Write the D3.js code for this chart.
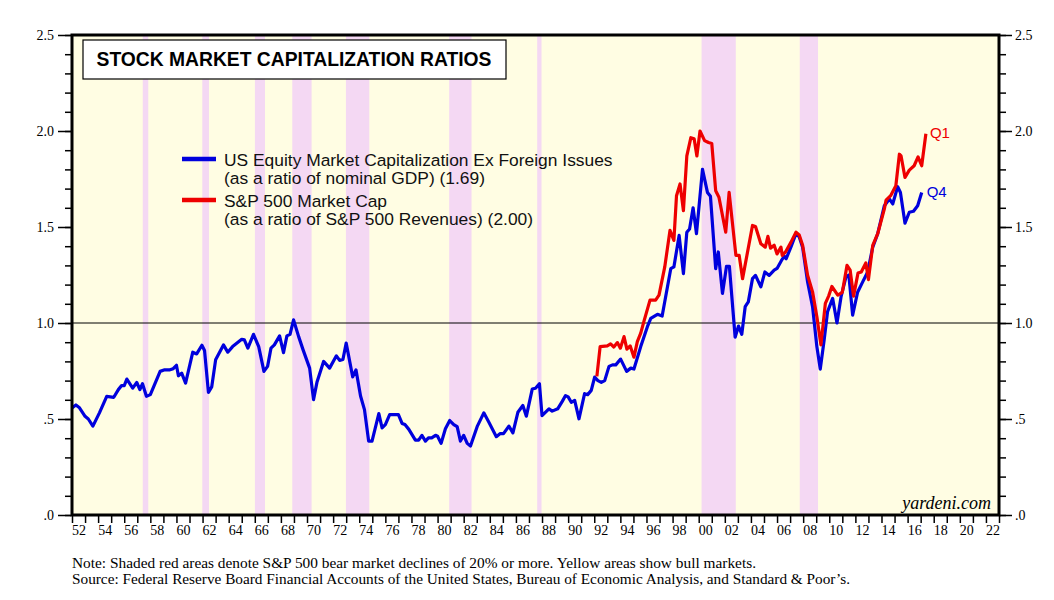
<!DOCTYPE html>
<html>
<head>
<meta charset="utf-8">
<script src="https://cdn.jsdelivr.net/npm/d3@7"></script>
<style>
  body { margin: 0; background: #fff; }
  svg { display: block; }
</style>
</head>
<body>
<svg></svg>
<script>
// US equity market cap ex foreign issues / nominal GDP (quarterly)
let blueYears = [1952.0, 1952.3, 1952.55, 1953.0, 1953.25, 1953.6, 1954.1, 1954.66, 1955.2, 1955.55, 1955.8, 1956.0, 1956.2, 1956.65, 1956.96, 1957.2, 1957.4, 1957.7, 1958.0, 1958.75, 1959.1, 1959.5, 1959.75, 1960.0, 1960.15, 1960.4, 1960.7, 1961.25, 1961.55, 1961.95, 1962.15, 1962.45, 1962.7, 1963.0, 1963.6, 1963.93, 1964.3, 1965.0, 1965.2, 1965.47, 1965.9, 1966.3, 1966.7, 1966.98, 1967.24, 1967.5, 1967.9, 1968.2, 1968.46, 1968.7, 1968.97, 1969.36, 1969.7, 1970.2, 1970.5, 1970.76, 1971.27, 1971.73, 1972.25, 1972.5, 1972.75, 1973.0, 1973.5, 1973.75, 1974.1, 1974.4, 1974.72, 1974.98, 1975.5, 1975.75, 1976.0, 1976.33, 1977.0, 1977.28, 1977.5, 1977.8, 1978.3, 1978.55, 1978.8, 1979.07, 1979.3, 1979.55, 1979.84, 1980.0, 1980.27, 1980.6, 1980.93, 1981.24, 1981.5, 1981.75, 1982.0, 1982.27, 1982.52, 1983.03, 1983.54, 1983.93, 1984.5, 1984.8, 1985.05, 1985.46, 1985.77, 1986.15, 1986.53, 1986.8, 1987.25, 1987.5, 1987.8, 1988.0, 1988.53, 1988.78, 1989.2, 1989.55, 1989.8, 1990.0, 1990.24, 1990.5, 1990.83, 1991.26, 1991.5, 1991.77, 1992.03, 1992.28, 1992.54, 1992.8, 1993.13, 1993.4, 1993.65, 1994.02, 1994.48, 1994.8, 1995.04, 1995.56, 1996.07, 1996.33, 1996.84, 1997.2, 1997.86, 1998.1, 1998.5, 1998.83, 1999.09, 1999.3, 1999.57, 1999.83, 2000.29, 2000.67, 2000.9, 2001.3, 2001.5, 2001.82, 2002.13, 2002.35, 2002.79, 2003.05, 2003.3, 2003.56, 2003.8, 2004.12, 2004.35, 2004.76, 2005.07, 2005.4, 2005.78, 2006.0, 2006.34, 2006.55, 2006.7, 2007.06, 2007.45, 2007.7, 2007.96, 2008.34, 2008.72, 2009.05, 2009.31, 2009.61, 2009.87, 2010.26, 2010.59, 2010.9, 2011.28, 2011.5, 2011.79, 2012.17, 2012.56, 2012.75, 2012.94, 2013.33, 2013.71, 2014.22, 2014.6, 2014.86, 2015.24, 2015.45, 2015.8, 2016.13, 2016.45, 2016.77, 2017.08]
let blueValues = [0.558, 0.573, 0.56, 0.514, 0.50, 0.463, 0.532, 0.618, 0.613, 0.653, 0.674, 0.674, 0.708, 0.661, 0.69, 0.653, 0.684, 0.618, 0.627, 0.748, 0.756, 0.756, 0.762, 0.78, 0.725, 0.739, 0.687, 0.848, 0.839, 0.884, 0.857, 0.639, 0.667, 0.808, 0.886, 0.848, 0.877, 0.915, 0.912, 0.869, 0.941, 0.877, 0.748, 0.774, 0.869, 0.886, 0.933, 0.846, 0.933, 0.941, 1.016, 0.929, 0.86, 0.765, 0.601, 0.691, 0.80, 0.765, 0.829, 0.805, 0.81, 0.895, 0.719, 0.756, 0.62, 0.549, 0.385, 0.385, 0.528, 0.454, 0.471, 0.523, 0.523, 0.477, 0.471, 0.446, 0.39, 0.39, 0.415, 0.385, 0.402, 0.402, 0.415, 0.41, 0.373, 0.449, 0.492, 0.471, 0.46, 0.385, 0.415, 0.373, 0.359, 0.46, 0.532, 0.483, 0.408, 0.424, 0.424, 0.463, 0.428, 0.535, 0.57, 0.515, 0.656, 0.66, 0.684, 0.518, 0.553, 0.541, 0.553, 0.592, 0.622, 0.615, 0.587, 0.597, 0.501, 0.632, 0.627, 0.649, 0.718, 0.70, 0.691, 0.70, 0.774, 0.782, 0.782, 0.812, 0.748, 0.765, 0.76, 0.877, 0.981, 1.024, 1.045, 1.036, 1.283, 1.292, 1.456, 1.257, 1.473, 1.49, 1.60, 1.465, 1.80, 1.68, 1.66, 1.283, 1.37, 1.154, 1.295, 1.295, 0.926, 0.984, 0.941, 1.085, 1.11, 1.231, 1.248, 1.188, 1.266, 1.248, 1.275, 1.284, 1.326, 1.347, 1.335, 1.395, 1.465, 1.448, 1.395, 1.214, 1.085, 0.877, 0.76, 0.912, 1.059, 1.128, 1.0, 1.136, 1.24, 1.25, 1.041, 1.16, 1.214, 1.24, 1.266, 1.395, 1.465, 1.611, 1.646, 1.62, 1.71, 1.68, 1.52, 1.577, 1.582, 1.611, 1.68]

// S&P 500 market cap / S&P 500 revenues
let redYears = [1992.2, 1992.45, 1993.0, 1993.25, 1993.5, 1993.77, 1994.0, 1994.28, 1994.5, 1994.75, 1995.04, 1995.3, 1995.56, 1995.8, 1996.27, 1996.7, 1996.96, 1997.4, 1997.8, 1998.1, 1998.3, 1998.57, 1998.83, 1999.09, 1999.4, 1999.65, 1999.86, 2000.1, 2000.45, 2000.75, 2001.0, 2001.3, 2001.55, 2002.07, 2002.33, 2002.85, 2003.1, 2003.36, 2004.12, 2004.35, 2004.76, 2005.1, 2005.3, 2005.5, 2005.78, 2006.0, 2006.3, 2006.4, 2006.65, 2007.06, 2007.45, 2007.7, 2007.96, 2008.34, 2008.72, 2009.05, 2009.36, 2009.7, 2009.95, 2010.2, 2010.65, 2011.0, 2011.36, 2011.6, 2011.86, 2012.2, 2012.45, 2012.8, 2013.0, 2013.33, 2013.71, 2014.22, 2014.35, 2014.7, 2015.1, 2015.37, 2015.5, 2015.8, 2016.13, 2016.5, 2016.8, 2017.08, 2017.4]
let redValues = [0.722, 0.877, 0.881, 0.891, 0.875, 0.898, 0.869, 0.929, 0.864, 0.881, 0.822, 0.903, 0.947, 1.007, 1.119, 1.119, 1.145, 1.292, 1.482, 1.43, 1.663, 1.724, 1.585, 1.87, 1.965, 1.96, 1.87, 2.0, 1.95, 1.94, 1.935, 1.689, 1.655, 1.473, 1.68, 1.352, 1.352, 1.231, 1.508, 1.503, 1.413, 1.395, 1.451, 1.39, 1.405, 1.36, 1.395, 1.352, 1.37, 1.42, 1.473, 1.458, 1.405, 1.249, 1.162, 1.033, 0.886, 1.102, 1.14, 1.19, 1.145, 1.16, 1.30, 1.275, 1.14, 1.26, 1.266, 1.313, 1.226, 1.404, 1.465, 1.594, 1.64, 1.663, 1.715, 1.879, 1.87, 1.758, 1.796, 1.819, 1.865, 1.819, 1.986]

// S&P 500 bear markets (shaded)
let bearStart = [1957.42, 1961.98, 1966.01, 1968.87, 1972.98, 1980.89, 1987.63, 2000.22, 2007.74]
let bearEnd   = [1957.84, 1962.49, 1966.78, 1970.35, 1974.77, 1982.60, 1987.96, 2002.84, 2009.14]

let yMajor = [0, 0.5, 1.0, 1.5, 2.0, 2.5]
let yMinor = d3.range(0, 2.501, 0.1)
let xYears = d3.range(1952, 2024)
let xLabelYears = d3.range(1952, 2023, 2)

let legendLines = [
    ['US Equity Market Capitalization Ex Foreign Issues', '(as a ratio of nominal GDP) (1.69)'],
    ['S&P 500 Market Cap', '(as a ratio of S&P 500 Revenues) (2.00)']
]

let width = 1054
let height = 600
let plotLeft = 72, plotRight = 999, plotTop = 35, plotBottom = 515

let blue = '#0000dd'
let red = '#ee0000'
let serif = '"Liberation Serif", "Times New Roman", serif'
let sans = '"Liberation Sans", Arial, sans-serif'

let svg = d3.select('svg').attr('width', width).attr('height', height)

let xScale = d3.scaleLinear().domain([1952, 2023]).range([plotLeft, plotRight])
let yScale = d3.scaleLinear().domain([0, 2.5]).range([plotBottom, plotTop])

// plot background and bear market bands
svg.append('rect')
   .attr('x', plotLeft).attr('y', plotTop)
   .attr('width', plotRight - plotLeft).attr('height', plotBottom - plotTop)
   .attr('fill', '#fffde3')

svg.selectAll('.bear')
   .data(bearStart)
   .enter()
   .append('rect')
   .attr('class', 'bear')
   .attr('x', (d) => xScale(d))
   .attr('y', plotTop)
   .attr('width', (d, i) => xScale(bearEnd[i]) - xScale(d))
   .attr('height', plotBottom - plotTop)
   .attr('fill', '#f4d8f3')

// 1.0 reference line
svg.append('line')
   .attr('x1', plotLeft).attr('x2', plotRight)
   .attr('y1', yScale(1)).attr('y2', yScale(1))
   .attr('stroke', '#000').attr('stroke-width', 1)

// series
let blueData = blueYears.map((y, i) => [y, blueValues[i]])
let redData = redYears.map((y, i) => [y, redValues[i]])

let line = d3.line()
             .x((d) => xScale(d[0]))
             .y((d) => yScale(d[1]))

svg.append('path')
   .datum(blueData)
   .attr('d', line)
   .attr('fill', 'none')
   .attr('stroke', blue)
   .attr('stroke-width', 3.2)
   .attr('stroke-linejoin', 'round')

svg.append('path')
   .datum(redData)
   .attr('d', line)
   .attr('fill', 'none')
   .attr('stroke', red)
   .attr('stroke-width', 3.2)
   .attr('stroke-linejoin', 'round')

// end labels
let lastBlue = blueData[blueData.length - 1]
let lastRed = redData[redData.length - 1]
svg.append('text')
   .attr('x', xScale(lastRed[0]) + 4).attr('y', yScale(lastRed[1]) + 4)
   .attr('font-family', sans).attr('font-size', 15).attr('fill', red)
   .text('Q1')
svg.append('text')
   .attr('x', xScale(lastBlue[0]) + 5).attr('y', yScale(lastBlue[1]) + 5)
   .attr('font-family', sans).attr('font-size', 15).attr('fill', blue)
   .text('Q4')

// frame
svg.append('rect')
   .attr('x', plotLeft).attr('y', plotTop)
   .attr('width', plotRight - plotLeft).attr('height', plotBottom - plotTop)
   .attr('fill', 'none')
   .attr('stroke', '#000')
   .attr('stroke-width', 3)

// y axes
let yFormat = (d) => d === 0 ? '.0' : d === 0.5 ? '.5' : d.toFixed(1)

let styleAxis = (g) => {
    g.select('.domain').remove()
    g.selectAll('line').attr('stroke', '#000').attr('stroke-width', 1.5)
    g.selectAll('text')
     .attr('font-family', serif)
     .attr('font-size', 14)
     .attr('fill', '#000')
}

svg.append('g')
   .attr('transform', 'translate(' + (plotLeft - 1) + ',0)')
   .call(d3.axisLeft(yScale).tickValues(yMinor).tickSize(6).tickFormat(''))
   .call(styleAxis)
svg.append('g')
   .attr('transform', 'translate(' + (plotLeft - 1) + ',0)')
   .call(d3.axisLeft(yScale).tickValues(yMajor).tickSize(13).tickPadding(4).tickFormat(yFormat))
   .call(styleAxis)

svg.append('g')
   .attr('transform', 'translate(' + (plotRight + 1) + ',0)')
   .call(d3.axisRight(yScale).tickValues(yMinor).tickSize(6).tickFormat(''))
   .call(styleAxis)
svg.append('g')
   .attr('transform', 'translate(' + (plotRight + 1) + ',0)')
   .call(d3.axisRight(yScale).tickValues(yMajor).tickSize(12).tickPadding(3).tickFormat(yFormat))
   .call(styleAxis)

// x axis: year ticks, labels centred in each year
svg.append('g')
   .attr('transform', 'translate(0,' + (plotBottom + 1) + ')')
   .call(d3.axisBottom(xScale).tickValues(xYears).tickSize(7).tickFormat(''))
   .call(styleAxis)
svg.append('g')
   .attr('transform', 'translate(0,' + (plotBottom + 1) + ')')
   .call(d3.axisBottom(xScale)
           .tickValues(xLabelYears.map((y) => y + 0.5))
           .tickSize(0)
           .tickPadding(9)
           .tickFormat((d) => String(Math.floor(d) % 100).padStart(2, '0')))
   .call(styleAxis)

// title box
svg.append('rect')
   .attr('x', 83).attr('y', 40)
   .attr('width', 423).attr('height', 39)
   .attr('fill', '#fff')
   .attr('stroke', '#000')
   .attr('stroke-width', 1.2)
svg.append('text')
   .attr('x', 294).attr('y', 66)
   .attr('text-anchor', 'middle')
   .attr('font-family', sans)
   .attr('font-weight', 'bold')
   .attr('font-size', 19.3)
   .text('STOCK MARKET CAPITALIZATION RATIOS')

// legend
let legendColors = [blue, red]
let legendY = [159, 200]
legendLines.forEach((lines, i) => {
    svg.append('line')
       .attr('x1', 182).attr('x2', 216)
       .attr('y1', legendY[i]).attr('y2', legendY[i])
       .attr('stroke', legendColors[i])
       .attr('stroke-width', 4.5)
    lines.forEach((t, j) => {
        svg.append('text')
           .attr('x', 224)
           .attr('y', legendY[i] + 7 + j * 18)
           .attr('font-family', sans)
           .attr('font-size', 17.4)
           .attr('fill', '#111')
           .text(t)
    })
})

// watermark
svg.append('text')
   .attr('x', 991).attr('y', 509)
   .attr('text-anchor', 'end')
   .attr('font-family', serif)
   .attr('font-style', 'italic')
   .attr('font-size', 18)
   .text('yardeni.com')

// notes
svg.append('text')
   .attr('x', 72).attr('y', 568)
   .attr('font-family', serif)
   .attr('font-size', 14)
   .attr('textLength', 684)
   .attr('lengthAdjust', 'spacingAndGlyphs')
   .text('Note: Shaded red areas denote S&P 500 bear market declines of 20% or more. Yellow areas show bull markets.')
svg.append('text')
   .attr('x', 72).attr('y', 584)
   .attr('font-family', serif)
   .attr('font-size', 14)
   .attr('textLength', 778)
   .attr('lengthAdjust', 'spacingAndGlyphs')
   .text('Source: Federal Reserve Board Financial Accounts of the United States, Bureau of Economic Analysis, and Standard & Poor\u2019s.')
</script>
</body>
</html>
